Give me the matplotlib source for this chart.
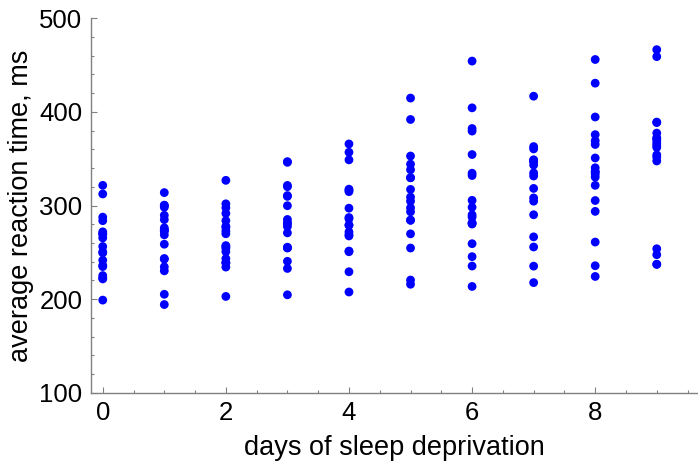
import numpy as np
import matplotlib
matplotlib.use("Agg")
import matplotlib.pyplot as plt
from matplotlib.ticker import MultipleLocator

plt.rcParams['font.family'] = ['Liberation Sans', 'DejaVu Sans']

# reaction times (ms) per subject, days 0..9
days = np.arange(10)
reaction = {
    '308': [249.56, 258.70, 250.80, 321.44, 356.85, 414.69, 382.20, 290.15, 430.59, 466.35],
    '309': [222.73, 205.27, 202.98, 204.71, 207.72, 215.96, 213.63, 217.73, 224.30, 237.31],
    '310': [199.05, 194.33, 234.32, 232.84, 229.31, 220.46, 235.42, 255.75, 261.01, 247.52],
    '330': [321.54, 300.40, 283.86, 285.13, 285.80, 297.59, 280.24, 318.26, 305.35, 354.05],
    '331': [287.61, 285.00, 301.82, 320.12, 316.28, 293.32, 290.08, 334.82, 293.75, 371.58],
    '332': [234.86, 242.81, 272.96, 309.77, 317.46, 309.00, 454.16, 346.83, 330.30, 253.86],
    '333': [283.84, 289.55, 276.77, 299.81, 297.17, 338.17, 332.02, 348.84, 333.36, 362.04],
    '334': [265.47, 276.20, 243.36, 254.67, 279.02, 284.19, 305.53, 331.50, 335.75, 377.30],
    '335': [241.61, 273.95, 254.49, 270.84, 251.45, 254.64, 245.45, 235.31, 235.76, 237.25],
    '337': [312.36, 313.80, 291.61, 346.12, 365.73, 391.84, 404.26, 416.69, 455.86, 458.92],
    '349': [236.10, 230.32, 238.93, 254.92, 250.71, 269.77, 281.56, 308.10, 336.28, 351.65],
    '350': [256.29, 243.46, 256.20, 255.53, 268.92, 329.72, 379.45, 362.91, 394.49, 389.05],
    '351': [250.53, 300.06, 269.89, 280.58, 271.83, 304.63, 287.75, 266.56, 321.54, 347.57],
    '352': [221.68, 298.19, 326.88, 346.86, 348.74, 352.83, 354.43, 360.43, 375.64, 388.54],
    '369': [271.92, 268.70, 257.24, 277.66, 314.82, 317.21, 298.14, 348.12, 340.28, 366.51],
    '370': [225.26, 234.52, 238.90, 240.47, 267.54, 344.19, 281.15, 347.58, 365.16, 372.23],
    '371': [269.41, 273.47, 297.60, 310.63, 287.17, 329.61, 334.48, 343.22, 369.14, 364.12],
    '372': [269.88, 272.44, 277.89, 281.79, 279.17, 284.51, 259.27, 304.63, 350.78, 369.47],
}

x = np.tile(days, len(reaction))
y = np.concatenate([reaction[k] for k in reaction])

fig = plt.figure(figsize=(6.98, 4.65), dpi=100)
ax = fig.add_axes([0.130, 0.155, 0.870, 0.806])
ax.scatter(x, y, s=40, color='#0000ff', edgecolors='none', zorder=3, clip_on=False)

ax.set_xlim(-0.195, 9.67)
ax.set_ylim(100, 500)

gray = '#808080'
for side in ('top', 'right'):
    ax.spines[side].set_visible(False)
for side in ('left', 'bottom'):
    ax.spines[side].set_color(gray)
    ax.spines[side].set_linewidth(1.0)

ax.xaxis.set_major_locator(MultipleLocator(2))
ax.xaxis.set_minor_locator(MultipleLocator(0.5))
ax.yaxis.set_major_locator(MultipleLocator(100))
ax.yaxis.set_minor_locator(MultipleLocator(20))
ax.tick_params(which='both', direction='in', color=gray, width=0.8, labelsize=18.5, labelcolor='black')
ax.tick_params(which='major', length=4)
ax.tick_params(which='minor', length=2.5)
ax.tick_params(axis='x', pad=6)
ax.tick_params(axis='y', pad=6)

ax.set_xlabel('days of sleep deprivation', fontsize=19.5, labelpad=7)
ax.set_ylabel('average reaction time, ms', fontsize=19.5, labelpad=4)

fig.savefig('out.png', dpi=100)
